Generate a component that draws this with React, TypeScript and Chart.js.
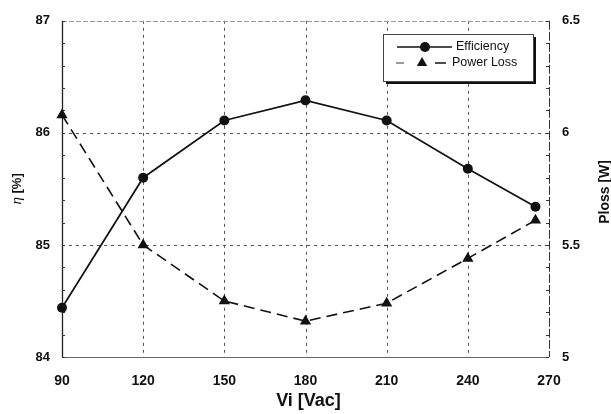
import React, { useEffect, useRef } from "react";
import { Chart, registerables } from "chart.js";

Chart.register(...registerables);

// ---- data ----
const voltages = [90, 120, 150, 180, 210, 240, 265];
const efficiency = [84.44, 85.6, 86.11, 86.29, 86.11, 85.68, 85.34];
const powerLoss = [6.08, 5.5, 5.25, 5.16, 5.24, 5.44, 5.61];
const xTicks = [90, 120, 150, 180, 210, 240, 270];
const leftTicks = [84, 85, 86, 87];
const rightTicks = [5, 5.5, 6, 6.5];
const rightTickLabels = ["5", "5.5", "6", "6.5"];
const seriesLabels = ["Efficiency", "Power Loss"];
const xTitle = "Vi [Vac]";
const leftTitleSymbol = "η";
const leftTitleUnit = " [%]";
const rightTitle = "Ploss [W]";

const SANS = "'Liberation Sans', Arial, sans-serif";

const framePlugin = {
  id: "frame",
  beforeDatasetsDraw(chart: any) {
    const { ctx, chartArea: a, scales } = chart;
    const x = scales.x;
    const y = scales.y;
    const y1 = scales.y1;
    const line = (x1: number, yy1: number, x2: number, yy2: number) => {
      ctx.beginPath();
      ctx.moveTo(x1, yy1);
      ctx.lineTo(x2, yy2);
      ctx.stroke();
    };
    ctx.save();
    // grid
    ctx.lineWidth = 1;
    ctx.strokeStyle = "#555";
    ctx.setLineDash([3, 4]);
    xTicks.slice(1, -1).forEach((t) => {
      const px = Math.round(x.getPixelForValue(t)) + 0.5;
      line(px, a.top, px, a.bottom);
    });
    leftTicks.slice(1, -1).forEach((t) => {
      const py = Math.round(y.getPixelForValue(t)) + 0.5;
      line(a.left, py, a.right, py);
    });
    // frame
    ctx.setLineDash([5, 2]);
    ctx.strokeStyle = "#999";
    line(a.left, Math.round(a.top) + 0.5, a.right, Math.round(a.top) + 0.5);
    ctx.strokeStyle = "#333";
    ctx.setLineDash([9, 2]);
    line(Math.round(a.right) + 0.5, a.top, Math.round(a.right) + 0.5, a.bottom);
    ctx.setLineDash([]);
    ctx.strokeStyle = "#666";
    line(a.left, Math.round(a.bottom) + 0.5, a.right, Math.round(a.bottom) + 0.5);
    ctx.strokeStyle = "#222";
    ctx.lineWidth = 1.3;
    line(Math.round(a.left) + 0.5, a.top, Math.round(a.left) + 0.5, a.bottom);
    // minor ticks
    ctx.lineWidth = 1;
    ctx.strokeStyle = "#333";
    const lmin = leftTicks[0];
    const lmax = leftTicks[leftTicks.length - 1];
    for (let i = 0; lmin + i * 0.2 <= lmax + 1e-9; i++) {
      const py = Math.round(y.getPixelForValue(lmin + i * 0.2)) + 0.5;
      line(a.left, py, a.left + 3, py);
    }
    const rmin = rightTicks[0];
    const rmax = rightTicks[rightTicks.length - 1];
    for (let i = 0; rmin + i * 0.1 <= rmax + 1e-9; i++) {
      const py = Math.round(y1.getPixelForValue(rmin + i * 0.1)) + 0.5;
      line(a.right - 3, py, a.right, py);
    }
    ctx.restore();
  },
  afterDraw(chart: any) {
    const { ctx, chartArea: a } = chart;
    ctx.save();
    ctx.fillStyle = "#111";
    // x title
    ctx.font = `bold 18px ${SANS}`;
    ctx.textAlign = "center";
    ctx.textBaseline = "middle";
    ctx.fillText(xTitle, (a.left + a.right) / 2 + 3, a.bottom + 44);
    // left title
    ctx.save();
    ctx.translate(17, (a.top + a.bottom) / 2 + 0);
    ctx.rotate(-Math.PI / 2);
    ctx.font = `italic 15px 'Liberation Serif', serif`;
    const w1 = ctx.measureText(leftTitleSymbol).width;
    ctx.font = `bold 13px ${SANS}`;
    const w2 = ctx.measureText(leftTitleUnit).width;
    const start = -(w1 + w2) / 2;
    ctx.textAlign = "left";
    ctx.font = `italic 15px 'Liberation Serif', serif`;
    ctx.fillText(leftTitleSymbol, start, 0);
    ctx.font = `bold 13px ${SANS}`;
    ctx.fillText(leftTitleUnit, start + w1, 0);
    ctx.restore();
    // right title
    ctx.save();
    ctx.translate(a.right + 56, (a.top + a.bottom) / 2 + 3);
    ctx.rotate(-Math.PI / 2);
    ctx.font = `bold 14px ${SANS}`;
    ctx.textAlign = "center";
    ctx.fillText(rightTitle, 0, 0);
    ctx.restore();

    // legend
    const bx = 383, by = 34, bw = 150, bh = 47;
    ctx.fillStyle = "#111";
    ctx.fillRect(bx + 3, by + 3, bw, bh);
    ctx.fillStyle = "#fff";
    ctx.fillRect(bx, by, bw, bh);
    ctx.strokeStyle = "#444";
    ctx.lineWidth = 1;
    ctx.strokeRect(bx + 0.5, by + 0.5, bw, bh);
    // efficiency entry
    ctx.strokeStyle = "#111";
    ctx.lineWidth = 1.6;
    ctx.beginPath();
    ctx.moveTo(397, 47);
    ctx.lineTo(452, 47);
    ctx.stroke();
    ctx.fillStyle = "#111";
    ctx.beginPath();
    ctx.arc(425, 47, 5, 0, Math.PI * 2);
    ctx.fill();
    // power loss entry
    ctx.lineWidth = 1.5;
    ctx.strokeStyle = "#777";
    ctx.beginPath();
    ctx.moveTo(396, 63);
    ctx.lineTo(404, 63);
    ctx.stroke();
    ctx.strokeStyle = "#111";
    ctx.beginPath();
    ctx.moveTo(435, 63);
    ctx.lineTo(446, 63);
    ctx.stroke();
    const r = 6;
    ctx.beginPath();
    ctx.moveTo(422, 63 - r);
    ctx.lineTo(422 + r * 0.866, 63 + r / 2);
    ctx.lineTo(422 - r * 0.866, 63 + r / 2);
    ctx.closePath();
    ctx.fill();
    ctx.font = `12.5px ${SANS}`;
    ctx.textAlign = "left";
    ctx.textBaseline = "middle";
    ctx.fillText(seriesLabels[0], 456, 47);
    ctx.fillText(seriesLabels[1], 452, 63);
    ctx.restore();
  },
};

export default function App() {
  const ref = useRef<HTMLCanvasElement | null>(null);
  useEffect(() => {
    if (!ref.current) return;
    const chart = new Chart(ref.current, {
      type: "line",
      data: {
        datasets: [
          {
            label: seriesLabels[0],
            data: voltages.map((v, i) => ({ x: v, y: efficiency[i] })),
            yAxisID: "y",
            borderColor: "#111",
            backgroundColor: "#111",
            borderWidth: 1.7,
            pointStyle: "circle",
            pointRadius: 5,
            pointBorderWidth: 0,
            tension: 0,
            clip: false,
          },
          {
            label: seriesLabels[1],
            data: voltages.map((v, i) => ({ x: v, y: powerLoss[i] })),
            yAxisID: "y1",
            borderColor: "#111",
            backgroundColor: "#111",
            borderWidth: 1.6,
            borderDash: [11, 6],
            pointStyle: "triangle",
            pointRadius: 6.5,
            pointBorderWidth: 0,
            tension: 0,
            clip: false,
          },
        ],
      },
      options: {
        responsive: false,
        animation: false,
        events: [],
        layout: { padding: { top: 12, left: 0, right: 0, bottom: 0 } },
        plugins: { legend: { display: false }, tooltip: { enabled: false }, title: { display: false } },
        scales: {
          x: {
            type: "linear",
            min: xTicks[0],
            max: xTicks[xTicks.length - 1],
            afterBuildTicks: (s: any) => {
              s.ticks = xTicks.map((v) => ({ value: v }));
            },
            grid: { display: false, drawTicks: false },
            border: { display: false },
            ticks: {
              color: "#111",
              font: { family: SANS, size: 14, weight: "bold" },
              padding: 16,
              maxRotation: 0,
            },
            afterFit: (s: any) => {
              s.height = 57;
            },
          },
          y: {
            type: "linear",
            position: "left",
            min: leftTicks[0],
            max: leftTicks[leftTicks.length - 1],
            afterBuildTicks: (s: any) => {
              s.ticks = leftTicks.map((v) => ({ value: v }));
            },
            grid: { display: false, drawTicks: false },
            border: { display: false },
            ticks: { color: "#111", font: { family: SANS, size: 13, weight: "bold" }, padding: 12 },
            afterFit: (s: any) => {
              s.width = 62;
            },
          },
          y1: {
            type: "linear",
            position: "right",
            min: rightTicks[0],
            max: rightTicks[rightTicks.length - 1],
            afterBuildTicks: (s: any) => {
              s.ticks = rightTicks.map((v) => ({ value: v }));
            },
            grid: { display: false, drawTicks: false },
            border: { display: false },
            ticks: {
              color: "#111",
              font: { family: SANS, size: 13, weight: "bold" },
              padding: 13,
              callback: (v: any) => {
                const i = rightTicks.indexOf(Number(v));
                return i >= 0 ? rightTickLabels[i] : String(v);
              },
            },
            afterFit: (s: any) => {
              s.width = 62;
            },
          },
        },
      },
      plugins: [framePlugin],
    });
    return () => chart.destroy();
  }, []);
  return (
    <div style={{ position: "fixed", left: 0, top: 0, width: 611, height: 414, background: "#fff" }}>
      <canvas ref={ref} width={611} height={414} style={{ display: "block" }} />
    </div>
  );
}
